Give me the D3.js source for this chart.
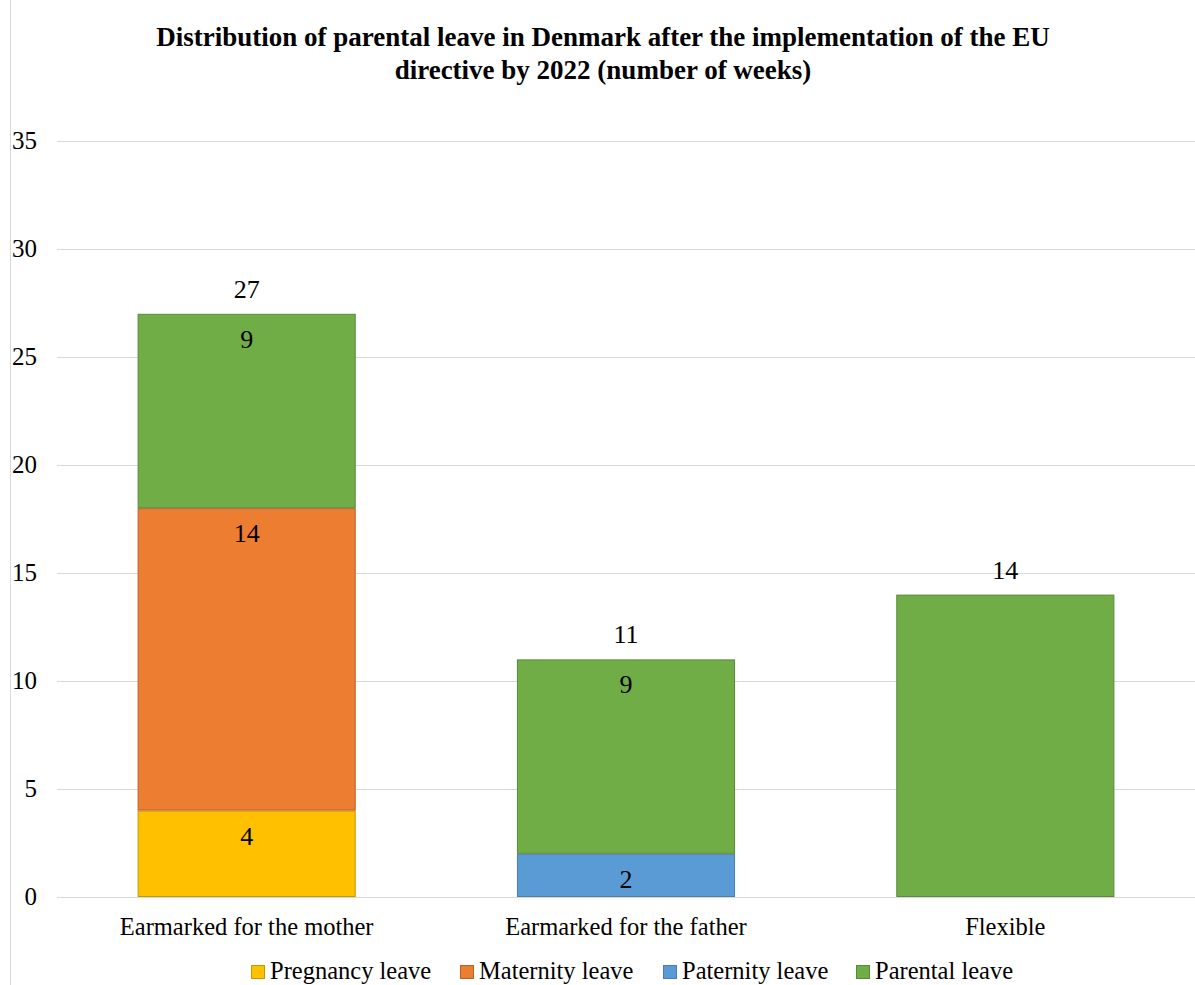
<!DOCTYPE html>
<html>
<head>
<meta charset="utf-8">
<script src="https://cdn.jsdelivr.net/npm/d3@7"></script>
<style>
  body { margin: 0; background: white; }
</style>
</head>
<body>
<div id="chart"></div>
<script>
// DATA
const categories = ['Earmarked for the mother', 'Earmarked for the father', 'Flexible'];
const seriesNames = ['Pregnancy leave', 'Maternity leave', 'Paternity leave', 'Parental leave'];
const pregnancy = [4, 0, 0];
const maternity = [14, 0, 0];
const paternity = [0, 2, 0];
const parental = [9, 9, 14];
const totals = [27, 11, 14];
const yTicks = [0, 5, 10, 15, 20, 25, 30, 35];
const colors = ['#FFC000', '#ED7D31', '#5B9BD5', '#70AD47'];
const strokes = ['#C89600', '#B9612A', '#4A7EAE', '#588A37'];

const FONT = '"Liberation Serif"';
const width = 1195, height = 985;
const margin = { left: 57, right: 0, top: 141, bottom: 88 };

const rows = categories.map((c, i) => ({
    cat: c, 'Pregnancy leave': pregnancy[i], 'Maternity leave': maternity[i],
    'Paternity leave': paternity[i], 'Parental leave': parental[i], total: totals[i]
}));

const svg = d3.select('#chart').append('svg')
    .attr('width', width).attr('height', height);

// LEFT BORDER LINE
svg.append('line')
    .attr('x1', 10.5).attr('x2', 10.5).attr('y1', 0).attr('y2', height)
    .attr('stroke', '#d9d9d9');

// TITLE
const title = svg.append('text')
    .attr('text-anchor', 'middle')
    .attr('font-weight', 'bold')
    .attr('font-size', 27);
title.append('tspan').attr('x', 603).attr('y', 46)
    .text('Distribution of parental leave in Denmark after the implementation of the EU');
title.append('tspan').attr('x', 603).attr('y', 79)
    .text('directive by 2022 (number of weeks)');

// SCALES
const x = d3.scaleBand().domain(categories)
    .range([margin.left, width - margin.right]).paddingInner(0.425).paddingOuter(0.2125);
const y = d3.scaleLinear().domain([0, 35]).range([height - margin.bottom, margin.top]);

// GRID
svg.append('g').selectAll('line').data(yTicks).join('line')
    .attr('x1', margin.left).attr('x2', width)
    .attr('y1', d => Math.round(y(d)) + 0.5).attr('y2', d => Math.round(y(d)) + 0.5)
    .attr('stroke', '#d9d9d9').attr('stroke-width', 1);

// Y AXIS LABELS
svg.append('g').selectAll('text').data(yTicks).join('text')
    .attr('x', 37).attr('y', d => y(d) + 8)
    .attr('text-anchor', 'end')
    .attr('font-size', 25)
    .text(d => d);

// STACK
const stacked = d3.stack().keys(seriesNames)(rows);

const layers = svg.append('g').selectAll('g').data(stacked).join('g')
    .attr('fill', (d, i) => colors[i])
    .attr('stroke', (d, i) => strokes[i]);

layers.selectAll('rect').data(d => d.filter(s => s[1] - s[0] > 0)).join('rect')
    .attr('x', d => x(d.data.cat) + 0.5)
    .attr('y', d => y(d[1]) + 0.5)
    .attr('width', x.bandwidth() - 1)
    .attr('height', d => y(d[0]) - y(d[1]) - 1)
    .attr('stroke-width', 1);

// INSIDE LABELS (not for flexible, where total covers it)
stacked.forEach(layer => {
    svg.append('g').selectAll('text')
        .data(layer.filter(s => s[1] - s[0] > 0 && s[1] - s[0] !== s.data.total))
        .join('text')
        .attr('x', d => x(d.data.cat) + x.bandwidth() / 2)
        .attr('y', d => y(d[1]) + 34)
        .attr('text-anchor', 'middle')
        .attr('font-size', 26)
        .text(d => d[1] - d[0]);
});

// TOTAL LABELS
svg.append('g').selectAll('text').data(rows).join('text')
    .attr('x', d => x(d.cat) + x.bandwidth() / 2)
    .attr('y', d => y(d.total) - 16)
    .attr('text-anchor', 'middle')
    .attr('font-size', 26)
    .text(d => d.total);

// CATEGORY LABELS
svg.append('g').selectAll('text').data(categories).join('text')
    .attr('x', d => x(d) + x.bandwidth() / 2)
    .attr('y', 935)
    .attr('text-anchor', 'middle')
    .attr('font-size', 24.5)
    .text(d => d);

// LEGEND
const legendX = [251, 460, 663, 856];
const legend = svg.append('g').selectAll('g').data(seriesNames).join('g')
    .attr('transform', (d, i) => `translate(${legendX[i]},965)`);
legend.append('rect')
    .attr('width', 13).attr('height', 13).attr('y', 0.5).attr('x', 0.5)
    .attr('fill', (d, i) => colors[i]).attr('stroke', (d, i) => strokes[i]);
legend.append('text')
    .attr('x', 19).attr('y', 14)
    .attr('font-size', 24.5)
    .text(d => d);

// FONT ON EVERY TEXT
svg.selectAll('text').attr('font-family', FONT).attr('fill', '#000');
</script>
</body>
</html>
